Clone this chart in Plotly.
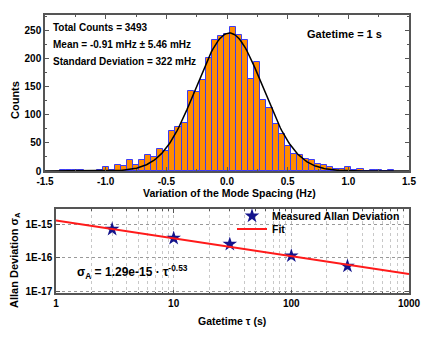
import numpy as np
import plotly.graph_objects as go

# histogram of mode spacing variation (bin centres in Hz, counts)
bin_centers = [-1.35, -1.30, -1.25, -1.20, -1.15, -1.10, -1.05, -1.00, -0.95, -0.90,
               -0.85, -0.80, -0.75, -0.70, -0.65, -0.60, -0.55, -0.50, -0.45, -0.40,
               -0.35, -0.30, -0.25, -0.20, -0.15, -0.10, -0.05, 0.00, 0.05, 0.10,
               0.15, 0.20, 0.25, 0.30, 0.35, 0.40, 0.45, 0.50, 0.55, 0.60,
               0.65, 0.70, 0.75, 0.80, 0.85, 0.90, 0.95, 1.00, 1.05, 1.10,
               1.15, 1.20, 1.25, 1.30, 1.35]
counts = [2, 1, 1, 1, 0, 0, 1, 7, 1, 10,
          8, 19, 10, 20, 29, 25, 39, 35, 71, 78,
          86, 142, 140, 162, 200, 232, 239, 244, 256, 241,
          232, 164, 194, 126, 111, 83, 66, 45, 31, 29,
          21, 20, 13, 11, 7, 4, 3, 7, 2, 3,
          0, 2, 1, 0, 1]
bin_width = 0.05

# gaussian fit drawn over the histogram
fit_amp, fit_mu, fit_sigma = 245, 0.02, 0.275

# Allan deviation
gatetime = [3, 10, 30, 100, 300]
allan_dev = [7.1e-16, 3.84e-16, 2.55e-16, 1.15e-16, 5.7e-17]
fit_a, fit_exp = 1.29e-15, -0.53

W, H = 436, 337
OFF = 8  # page body margin shifts the figure by 8 px
def px(x): return (x - OFF) / W
def py(y): return 1 - (y - OFF) / H

FONT = "Arial, Liberation Sans, sans-serif"
frame = "#555555"

xg = np.linspace(-1.5, 1.5, 301)
yg = fit_amp * np.exp(-(xg - fit_mu) ** 2 / (2 * fit_sigma ** 2))

tau_fit = np.array([1, 1000])
sig_fit = fit_a * tau_fit ** fit_exp

fig = go.Figure()
fig.add_trace(go.Bar(x=bin_centers, y=counts, width=bin_width,
                     marker=dict(color="#ff8c00", line=dict(color="#3c3cf5", width=1)),
                     showlegend=False, xaxis="x", yaxis="y"))
fig.add_trace(go.Scatter(x=xg, y=yg, mode="lines", line=dict(color="black", width=1.5),
                         showlegend=False, xaxis="x", yaxis="y"))
fig.add_trace(go.Scatter(x=gatetime, y=allan_dev, mode="markers", name="Measured Allan Deviation",
                         marker=dict(symbol="star", size=11, color="#14148c"),
                         xaxis="x2", yaxis="y2", legend="legend"))
fig.add_trace(go.Scatter(x=tau_fit, y=sig_fit, mode="lines", name="Fit",
                         line=dict(color="#ff1a1a", width=2), xaxis="x2", yaxis="y2",
                         legend="legend2"))

axis_common = dict(showline=True, linecolor=frame, linewidth=1.5, mirror="ticks",
                   ticks="inside", tickcolor=frame, ticklen=4, zeroline=False,
                   automargin=False,
                   tickfont=dict(family=FONT, size=10, color="black", weight="bold"))

minor_x = [m * 10 ** d for d in range(3) for m in range(2, 10)]

legend_style = dict(xanchor="left", yanchor="middle", bgcolor="rgba(0,0,0,0)",
                    font=dict(family=FONT, size=10.5, weight="bold"),
                    itemwidth=30, borderwidth=0)

fig.update_layout(
    width=W, height=H,
    margin=dict(l=0, r=0, t=0, b=0),
    paper_bgcolor="white", plot_bgcolor="white",
    font=dict(family=FONT, size=10, color="black", weight="bold"),
    bargap=0,
    xaxis=dict(domain=[px(45), px(409)], range=[-1.5, 1.5], tickvals=[-1.5, -1.0, -0.5, 0.0, 0.5, 1.0, 1.5],
               ticktext=["-1.5", "-1.0", "-0.5", "0.0", "0.5", "1.0", "1.5"],
               minor=dict(ticks="inside", ticklen=2, tickcolor=frame, dtick=0.25),
               showgrid=False, anchor="y", **axis_common),
    yaxis=dict(domain=[py(171), py(15)], range=[0, 277], tickvals=[0, 50, 100, 150, 200, 250],
               minor=dict(ticks="inside", ticklen=2, tickcolor=frame, dtick=25),
               showgrid=False, anchor="x", **axis_common),
    xaxis2=dict(domain=[px(56), px(409)], type="log", range=[0, 3],
                tickvals=[1, 10, 100, 1000], ticktext=["1", "10", "100", "1000"],
                showgrid=True, gridcolor="#bbbbbb", griddash="dot", gridwidth=1,
                minor=dict(tickvals=minor_x, ticks="inside", ticklen=2, tickcolor=frame,
                           showgrid=True, gridcolor="#c8c8c8", griddash="dot", gridwidth=1),
                anchor="y2", **axis_common),
    yaxis2=dict(domain=[py(293.3), py(209)], type="log", range=[-17.05, -14.55],
                tickvals=[1e-17, 1e-16, 1e-15], ticktext=["1E-17", "1E-16", "1E-15"],
                showgrid=True, gridcolor="#999999", griddash="dot", gridwidth=1,
                anchor="x2", **axis_common),
    legend=dict(x=px(232), y=py(216), **legend_style),
    legend2=dict(x=px(232), y=py(229), **legend_style),
)

def note(text, x, y, xanchor="left", size=10, angle=0):
    fig.add_annotation(text=text, x=px(x), y=py(y), xref="paper", yref="paper",
                       xanchor=xanchor, yanchor="middle", showarrow=False, textangle=angle,
                       font=dict(family=FONT, size=size, color="black", weight="bold"))

note("Total Counts = 3493", 51, 27.5, size=10)
note("Mean = -0.91 mHz ± 5.46 mHz", 51, 44.5, size=10)
note("Standard Deviation = 322 mHz", 51, 61.5, size=10)
note("Gatetime = 1 s", 305, 34, size=11)
note("Variation of the Mode Spacing (Hz)", 230, 193, xanchor="center", size=10.5)
note("Counts", 15, 100, xanchor="center", size=11, angle=-90)
note("Allan Deviation σ<sub>A</sub>", 15, 260, xanchor="center", size=11, angle=-90)
note("Gatetime τ (s)", 232, 321, xanchor="center", size=10.5)
note("σ<sub>A</sub> = 1.29e-15 · τ<sup>-0.53</sup>", 75, 272, size=12)

fig.write_html("out.html")
